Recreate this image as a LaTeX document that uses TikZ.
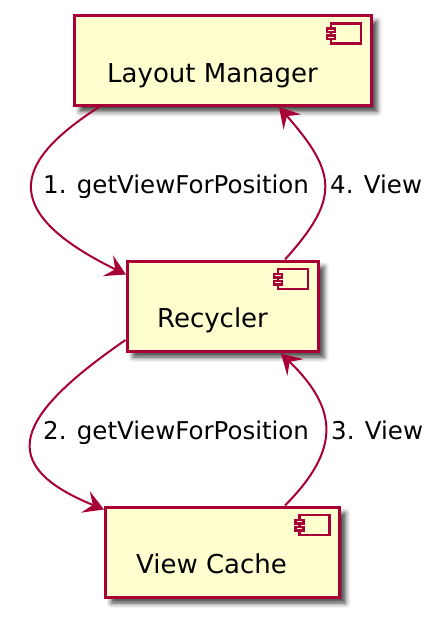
\documentclass[tikz,border=0pt]{standalone}
\usepackage{fontspec}
\setmainfont{DejaVu Sans}
\usetikzlibrary{arrows.meta}
\usetikzlibrary{shadows.blur}

\definecolor{umlred}{HTML}{A80036}
\definecolor{umlfill}{HTML}{FEFECE}

\begin{document}
\begin{tikzpicture}[x=1pt,y=-1pt,
    comp/.style={draw=umlred, fill=umlfill, line width=3pt, minimum height=90pt,
        blur shadow={shadow xshift=6pt, shadow yshift=-6pt, shadow blur radius=5pt, shadow opacity=75}},
    compname/.style={anchor=base, inner sep=0pt, font=\fontsize{26}{30}\selectfont},
    msg/.style={anchor=base west, inner sep=0pt, font=\fontsize{24.5}{28}\selectfont},
    flow/.style={draw=umlred, line width=2pt, -{Stealth[length=20pt, width=23pt, inset=8pt]}},
    icon/.style={draw=umlred, fill=umlfill, line width=2.3pt}]

    \useasboundingbox (0,0) rectangle (432,624);

    % nodes (components)
    \node[comp, minimum width=297pt] (lm) at (222.5,60.5) {};
    \node[comp, minimum width=191pt] (rec) at (222.5,306) {};
    \node[comp, minimum width=234pt] (vc) at (222.5,552) {};
    \node[compname] (lmname) at ([shift={(-10,21.5)}]lm.center) {Layout Manager};
    \node[compname] (recname) at ([shift={(-10,21)}]rec.center) {Recycler};
    \node[compname] (vcname) at ([shift={(-11,21)}]vc.center) {View Cache};

    % component icons
    \foreach \c in {lm,rec,vc} {
        \draw[icon] ([shift={(-41.5,9.5)}]\c.north east) rectangle ([shift={(-11.5,29.5)}]\c.north east);
        \draw[icon] ([shift={(-45.5,14.5)}]\c.north east) rectangle ([shift={(-37.5,18)}]\c.north east);
        \draw[icon] ([shift={(-45.5,21.5)}]\c.north east) rectangle ([shift={(-37.5,25)}]\c.north east);
    }

    % message labels
    \node[msg] (m1) at (43,193) {1. getViewForPosition};
    \node[msg] (m4) at (330,193) {4. View};
    \node[msg] (m2) at (43,439) {2. getViewForPosition};
    \node[msg] (m3) at (331,439) {3. View};

    % edges
    \draw[flow] ([xshift=26.5]lm.south west) .. controls +(-79,51) and +(-135,-66) .. ([shift={(0.5,15)}]rec.north west); % Layout Manager -> Recycler
    \draw[flow] ([xshift=-34.5]rec.north east) .. controls +(55,-61) and +(58,66) .. ([xshift=-93.5]lm.south east); % Recycler -> Layout Manager
    \draw[flow] ([yshift=12.5]rec.south west) .. controls +(-111.5,77) and +(-109,-44.5) .. ([yshift=-4]vc.north west); % Recycler -> View Cache
    \draw[flow] ([xshift=-56]vc.north east) .. controls +(55,-55.5) and +(58,56) .. ([shift={(-38.5,1)}]rec.south east); % View Cache -> Recycler

\end{tikzpicture}
\end{document}
